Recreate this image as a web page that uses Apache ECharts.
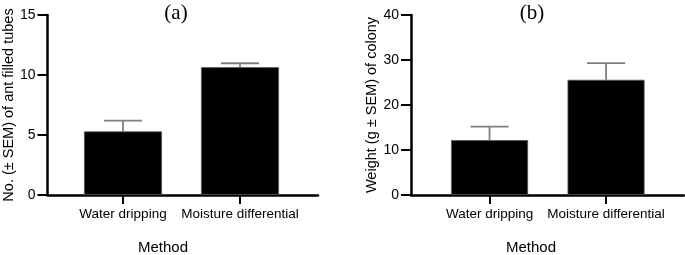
<!DOCTYPE html>
<html>
<head>
<meta charset="utf-8">
<script src="https://cdn.jsdelivr.net/npm/echarts@6/dist/echarts.min.js"></script>
<style>
html,body{margin:0;padding:0;background:#fff;}
#main{width:685px;height:255px;}
</style>
</head>
<body>
<div id="main"></div>
<script>
// data
var methods = ['Water dripping', 'Moisture differential'];
var tubesMean = [5.3, 10.65];
var tubesSem = [0.9, 0.33];
var weightMean = [12.2, 25.6];
var weightSem = [3.0, 3.7];
var tubesTicks = [0, 15, 5];   // min, max, interval
var weightTicks = [0, 40, 10];

var FONT = 'Liberation Sans, Arial, sans-serif';
var chart = echarts.init(document.getElementById('main'));

function errData(mean, sem){
	return mean.map(function(v, i){ return [i, v, sem[i]]; });
}

function errRender(params, api){
	var i = api.value(0);
	var lo = api.coord([i, api.value(1)]);
	var hi = api.coord([i, api.value(1) + api.value(2)]);
	var half = 19;
	var st = {stroke: '#7f7f7f', lineWidth: 1.8, fill: null};
	return {
		type: 'group',
		children: [
			{type: 'line', shape: {x1: lo[0], y1: lo[1], x2: hi[0], y2: hi[1]}, style: st},
			{type: 'line', shape: {x1: hi[0] - half, y1: hi[1], x2: hi[0] + half, y2: hi[1]}, style: st}
		]
	};
}

// frame axis (long x line) + visible y axis
function frameX(idx){
	return {
		type: 'value', gridIndex: idx, min: 0, max: 1,
		axisLine: {show: true, onZero: false, lineStyle: {color: '#000', width: 2.5}},
		axisTick: {show: false}, axisLabel: {show: false}, splitLine: {show: false}
	};
}
function frameY(idx, t, name){
	return {
		type: 'value', gridIndex: idx, min: t[0], max: t[1], interval: t[2],
		name: name, nameLocation: 'middle', nameGap: 29.5,
		nameTextStyle: {fontFamily: FONT, fontSize: 14.5, color: '#000'},
		axisLine: {show: true, lineStyle: {color: '#000', width: 2.5}},
		axisTick: {show: true, length: 10, lineStyle: {color: '#000', width: 2}},
		axisLabel: {fontFamily: FONT, fontSize: 14, color: '#000', margin: 12},
		splitLine: {show: false}
	};
}
function barX(idx){
	return {
		type: 'category', gridIndex: idx, data: methods,
		axisLine: {show: false},
		axisTick: {show: true, alignWithLabel: true, length: 9, lineStyle: {color: '#000', width: 2}},
		axisLabel: {fontFamily: FONT, fontSize: 13.5, color: '#000', margin: 12, interval: 0}
	};
}
function barY(idx, t){
	return {type: 'value', gridIndex: idx, min: t[0], max: t[1], show: false, splitLine: {show: false}};
}

var option = {
	backgroundColor: '#ffffff',
	animation: false,
	grid: [
		{left: 45, width: 273, top: 15, bottom: 60},
		{left: 64.5, width: 234, top: 15, bottom: 60},
		{left: 411, width: 273, top: 15, bottom: 60},
		{left: 431.3, width: 233, top: 15, bottom: 60}
	],
	xAxis: [frameX(0), barX(1), frameX(2), barX(3)],
	yAxis: [
		frameY(0, tubesTicks, 'No. (\u00b1 SEM) of ant filled tubes'),
		barY(1, tubesTicks),
		frameY(2, weightTicks, 'Weight (g \u00b1 SEM) of colony'),
		barY(3, weightTicks)
	],
	graphic: [
		{type: 'text', x: 176, y: 13, style: {text: '(a)', font: '21px "Liberation Serif", "Times New Roman", serif', fill: '#000', align: 'center', verticalAlign: 'middle'}},
		{type: 'text', x: 532, y: 13, style: {text: '(b)', font: '21px "Liberation Serif", "Times New Roman", serif', fill: '#000', align: 'center', verticalAlign: 'middle'}},
		{type: 'text', x: 163, y: 248, style: {text: 'Method', font: '15px ' + FONT, fill: '#000', align: 'center', verticalAlign: 'middle'}},
		{type: 'text', x: 531, y: 248, style: {text: 'Method', font: '15px ' + FONT, fill: '#000', align: 'center', verticalAlign: 'middle'}}
	],
	series: [
		{type: 'bar', xAxisIndex: 1, yAxisIndex: 1, data: tubesMean, barWidth: 78,
			itemStyle: {color: '#000', borderColor: '#555', borderWidth: 0.8}},
		{type: 'custom', xAxisIndex: 1, yAxisIndex: 1, data: errData(tubesMean, tubesSem), renderItem: errRender, z: 3},
		{type: 'bar', xAxisIndex: 3, yAxisIndex: 3, data: weightMean, barWidth: 77,
			itemStyle: {color: '#000', borderColor: '#555', borderWidth: 0.8}},
		{type: 'custom', xAxisIndex: 3, yAxisIndex: 3, data: errData(weightMean, weightSem), renderItem: errRender, z: 3}
	]
};
chart.setOption(option);
</script>
</body>
</html>
